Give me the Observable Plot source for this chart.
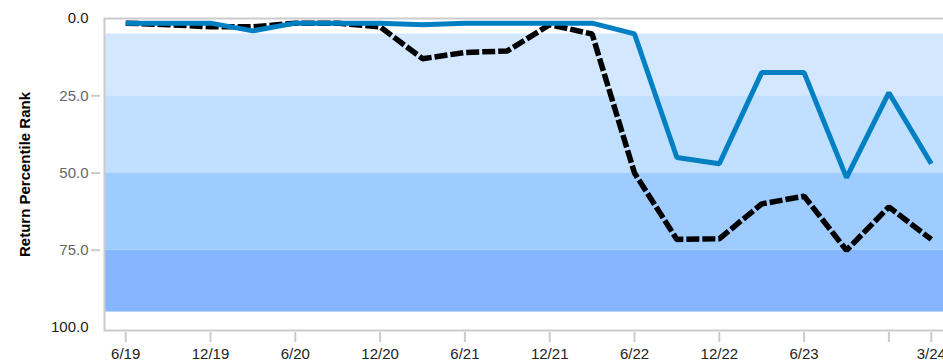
<!DOCTYPE html>
<html>
<head>
<meta charset="utf-8">
<script src="https://cdn.jsdelivr.net/npm/d3@7"></script>
<script src="https://cdn.jsdelivr.net/npm/@observablehq/plot@0.6"></script>
<style>
  html, body { margin: 0; padding: 0; background: #fff; overflow: hidden; }
  #chart svg { display: block; max-width: none !important; }
</style>
</head>
<body>
<div id="chart"></div>
<script>
// Quarter-end labels
const quarters = ["6/19","9/19","12/19","3/20","6/20","9/20","12/20","3/21","6/21","9/21","12/21","3/22","6/22","9/22","12/22","3/23","6/23","9/23","12/23","3/24"];
// Fund return percentile rank (solid blue)
const fundRank = [1.5,1.5,1.5,4,1.5,1.5,1.5,2,1.5,1.5,1.5,1.5,5,45,47,17.5,17.5,51.5,24,47];
// Benchmark / comparison percentile rank (dashed black)
const benchRank = [1.5,2,2.7,2.7,1.5,1.5,2.7,13,11,10.5,2,5,50,71.5,71.3,60,57.5,75,61,71.5];
// Background percentile bands
const bandLo = [5,25,50,75];
const bandHi = [25,50,75,95];
// Axis ticks
const xTicks = ["6/19","12/19","6/20","12/20","6/21","12/21","6/22","12/22","6/23","12/23","3/24"];
const xHiddenLabels = ["12/23"];
const yTicksInner = [25,50,75];
const yTicksEnds = [0,100];
const yTitle = "Return Percentile Rank";

const bandColors = ["#d3e8ff","#c1dfff","#9fccff","#85b6ff"];

const rows = quarters.map((q, i) => ({q, fund: fundRank[i], bench: benchRank[i]}));
const bands = bandLo.map((lo, i) => ({lo, hi: bandHi[i], color: bandColors[i]}));

const chart = Plot.plot({
  width: 960,
  height: 362,
  marginLeft: 104,
  marginRight: 8,
  marginTop: 18,
  marginBottom: 32,
  insetBottom: 3,
  style: {fontFamily: "'Liberation Sans', Arial, sans-serif", fontSize: "15px", background: "#fff", maxWidth: "none"},
  x: {type: "point", domain: quarters, padding: 0.5, round: false},
  y: {domain: [0, 100], reverse: true},
  marks: [
    Plot.rect(bands, {y1: "lo", y2: "hi", fill: "color"}),
    Plot.frame({stroke: "#cccccc", strokeWidth: 2}),
    Plot.axisY({ticks: yTicksInner, tickSize: 9, tickPadding: 3, dx: -4, tickFormat: d3.format(".1f"),
      fill: "#666", stroke: "#cccccc", strokeWidth: 2, label: null}),
    Plot.axisY({ticks: yTicksEnds, tickSize: 0, tickPadding: 16, tickFormat: d3.format(".1f"),
      fill: "#222", label: null}),
    Plot.axisX({ticks: xTicks, tickSize: 10, tickPadding: 6, dy: 2,
      tickFormat: d => xHiddenLabels.includes(d) ? "" : d,
      fill: "#222", stroke: "#cccccc", strokeWidth: 2, label: null}),
    Plot.text([yTitle], {frameAnchor: "left", dx: -79, rotate: -90, text: d => d, textAnchor: "middle",
      fontWeight: "bold", fontSize: 15, fill: "#000"}),
    Plot.line(rows, {x: "q", y: "bench", stroke: "#000", strokeWidth: 5.5,
      strokeDasharray: "13,3", strokeLinejoin: "miter", strokeLinecap: "butt"}),
    Plot.line(rows, {x: "q", y: "fund", stroke: "#0080c3", strokeWidth: 5,
      strokeLinejoin: "miter", strokeLinecap: "butt"})
  ]
});
document.getElementById("chart").append(chart);
</script>
</body>
</html>
